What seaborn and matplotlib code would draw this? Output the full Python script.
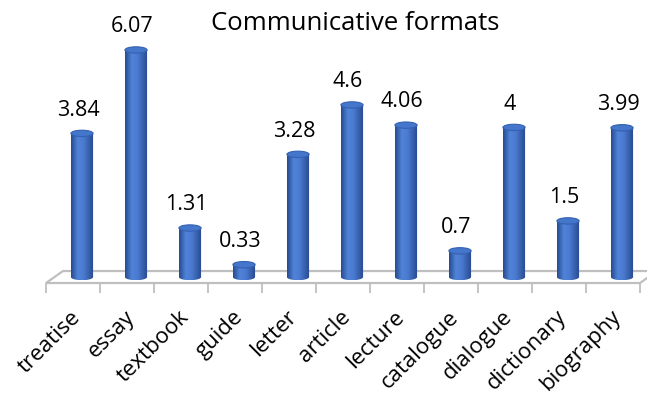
import numpy as np
import matplotlib
matplotlib.use("Agg")
import matplotlib.pyplot as plt
import seaborn as sns
import pandas as pd
from matplotlib.patches import Ellipse, Polygon, PathPatch
from matplotlib.path import Path
from matplotlib.colors import LinearSegmentedColormap

# Data
categories = ["treatise", "essay", "textbook", "guide", "letter", "article",
              "lecture", "catalogue", "dialogue", "dictionary", "biography"]
values = [3.84, 6.07, 1.31, 0.33, 3.28, 4.6, 4.06, 0.7, 4.0, 1.5, 3.99]
title = "Communicative formats"

sns.set_theme(style="white")
plt.rcParams["font.family"] = ["Open Sans", "DejaVu Sans"]
plt.rcParams["text.color"] = "black"
plt.rcParams["xtick.labelcolor"] = "black"

fig = plt.figure(figsize=(6.47, 3.94), dpi=100)
ax = fig.add_axes([0, 0.2817, 1, 0.7183])

df = pd.DataFrame({"format": categories, "value": values})
sns.barplot(data=df, x="format", y="value", order=categories, color="#4472C4",
            width=0.41, saturation=1, ax=ax, zorder=3)

n = len(categories)
front_shift = -0.167   # front edge of the floor sits left of the cylinders
back_shift = 0.148     # back edge of the floor sits right of the cylinders
floor_half = 0.16      # half depth of the floor in value units
e = 0.085              # half height of the cylinder end ellipses

# Floor of the 3-D plot
floor = Polygon([(-0.5 + front_shift, -floor_half), (n - 0.5 + front_shift, -floor_half),
                 (n - 0.5 + back_shift, floor_half), (-0.5 + back_shift, floor_half)],
                closed=True, facecolor="white", edgecolor="#BFBFBF", lw=1.6,
                zorder=1, clip_on=False)
ax.add_patch(floor)

# Cylinder shading
cyl_cmap = LinearSegmentedColormap.from_list(
    "cyl", [(0.0, "#27498F"), (0.3, "#5083D8"), (0.55, "#4A7BD1"), (1.0, "#26478C")])
grad = np.linspace(0, 1, 256).reshape(1, -1)

for p in list(ax.patches):
    if p is floor:
        continue
    x0, w, h = p.get_x(), p.get_width(), p.get_height()
    cx = x0 + w / 2
    t = np.linspace(np.pi, 2 * np.pi, 40)
    arc = np.column_stack([cx + (w / 2) * np.cos(t), e * np.sin(t)])
    verts = np.vstack([[[x0, h]], arc, [[x0 + w, h]], [[x0, h]]])
    codes = [Path.MOVETO] + [Path.LINETO] * (len(verts) - 2) + [Path.CLOSEPOLY]
    clip = PathPatch(Path(verts, codes), transform=ax.transData,
                     facecolor="none", edgecolor="none")
    ax.add_patch(clip)
    im = ax.imshow(grad, cmap=cyl_cmap, extent=[x0, x0 + w, -e, h],
                   aspect="auto", zorder=4, interpolation="bilinear")
    im.set_clip_path(clip)
    p.set_visible(False)
    ax.add_patch(Ellipse((cx, h), w, 2 * e, facecolor="#4476CB",
                         edgecolor="#3561B2", lw=0.8, zorder=5))

# Value labels
for i, v in enumerate(values):
    ax.text(i - 0.075, v + 0.62, f"{v:g}", ha="center", va="center",
            fontsize=15.5, color="black", zorder=6)

ax.set_xlim(-1.5185, 10.463)
ax.set_ylim(-floor_half, 7.406)

# Category ticks
ax.set_xticks(np.arange(n) - 0.22)
ax.set_xticklabels(categories, rotation=45, ha="right", va="top",
                   rotation_mode="anchor", fontsize=16, color="black")
ax.set_xticks(np.arange(n + 1) - 0.5 + front_shift, minor=True)
ax.tick_params(axis="x", which="major", length=0, pad=17)
ax.tick_params(axis="x", which="minor", length=7.5, width=1.3,
               color="#BFBFBF", direction="out", bottom=True)
ax.set_yticks([])
ax.set_xlabel("")
ax.set_ylabel("")
for s in ax.spines.values():
    s.set_visible(False)

fig.text(355 / 647, 1 - 24 / 394, title, ha="center", va="center",
         fontsize=18.5, color="black")

fig.savefig("out.png", dpi=100)
